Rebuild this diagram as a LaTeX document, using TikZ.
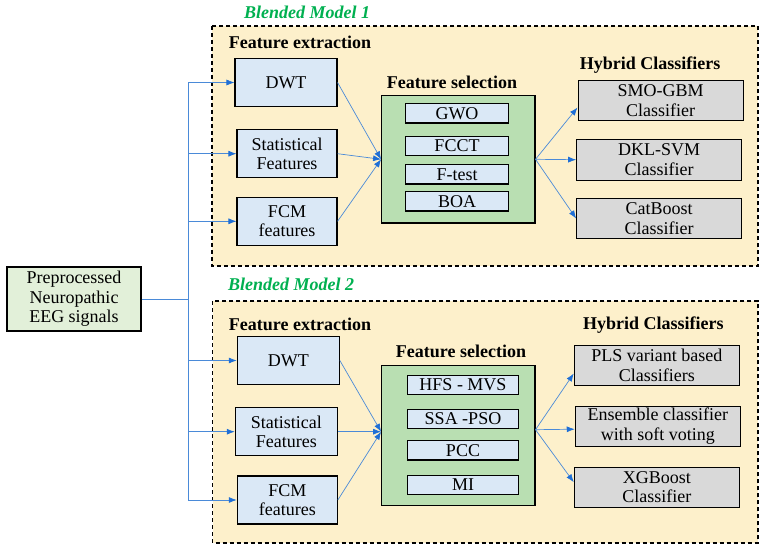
\documentclass[tikz,border=0pt]{standalone}
\usepackage{fontspec}
\setmainfont{Liberation Serif}
\usetikzlibrary{arrows.meta,calc}
\definecolor{panelfill}{HTML}{FDF0CB}
\definecolor{featfill}{HTML}{DAE8F6}
\definecolor{selfill}{HTML}{B9DFB2}
\definecolor{prefill}{HTML}{E2F0D9}
\definecolor{clsfill}{HTML}{D9D9D9}
\definecolor{titlegreen}{HTML}{00B050}
\definecolor{linkblue}{HTML}{4A8AD8}
\definecolor{tipblue}{HTML}{1F6FD6}
\tikzset{
  panel/.style={draw=black, fill=panelfill, line width=1.1pt, dash pattern=on 4pt off 3pt},
  basebox/.style={draw=black, line width=1.1pt, inner sep=0pt, align=center},
  featbox/.style={basebox, fill=featfill},
  selbox/.style={basebox, fill=selfill},
  prebox/.style={basebox, fill=prefill},
  clsbox/.style={basebox, fill=clsfill},
  itembox/.style={basebox, fill=featfill, minimum height=19.3pt},
  head/.style={font=\fontsize{18}{19.5}\selectfont\bfseries, inner sep=0pt},
  title/.style={font=\fontsize{18}{19.5}\selectfont\bfseries\itshape, text=titlegreen, inner sep=0pt},
  link/.style={draw=linkblue, line width=0.7pt},
  arrow/.style={link, -{Latex[length=8pt,width=6pt,color=tipblue]}},
}
\begin{document}
\begin{tikzpicture}[x=1pt, y=-1pt, font=\fontsize{18}{19.5}\selectfont]
\useasboundingbox (0,0) rectangle (763,549);

% dashed panels of the two blended models
\draw[panel] (212,26) rectangle (758,266);
\draw[panel] (212.7,301) rectangle (758,543);

% input
\node[prebox, minimum width=134pt, minimum height=64pt] (pre) at (74,299)
  {Preprocessed\\Neuropathic\\EEG signals};

% ---- Blended Model 1 ----
\node[title] (t1) at (307,12) {Blended Model 1};
\node[head] (fe1) at (300,42) {Feature extraction};
\node[featbox, minimum width=102pt, minimum height=47.6pt] (dwt1) at (286,82.5) {DWT};
\node[featbox, minimum width=100pt, minimum height=48pt] (stat1) at (287,153.7) {Statistical\\Features};
\node[featbox, minimum width=100pt, minimum height=48pt] (fcm1) at (287,221.3) {FCM\\features};

\node[head] (fs1) at (452,82) {Feature selection};
\node[selbox, minimum width=153.3pt, minimum height=127.3pt] (sel1) at (458.3,159.3) {};
\node[itembox, minimum width=102.6pt] (gwo) at (457,113.3) {GWO};
\node[itembox, minimum width=102.6pt] (fcct) at (457,145.7) {FCCT};
\node[itembox, minimum width=102.6pt] (ftest) at (457,174.3) {F-test};
\node[itembox, minimum width=102.6pt] (boa) at (457,201.3) {BOA};

\node[head] (hc1) at (650,65) {Hybrid Classifiers};
\node[clsbox, minimum width=165.3pt, minimum height=40.4pt] (smo) at (660.7,100.5) {SMO-GBM\\Classifier};
\node[clsbox, minimum width=165pt, minimum height=40.7pt] (dkl) at (659.2,159.7) {DKL-SVM\\Classifier};
\node[clsbox, minimum width=165pt, minimum height=40.4pt] (cat) at (659.2,218.5) {CatBoost\\Classifier};

% ---- Blended Model 2 ----
\node[title] (t2) at (291,284) {Blended Model 2};
\node[head] (fe2) at (300,324) {Feature extraction};
\node[featbox, minimum width=102pt, minimum height=47.6pt] (dwt2) at (288.3,360.5) {DWT};
\node[featbox, minimum width=102pt, minimum height=48pt] (stat2) at (286.3,431.7) {Statistical\\Features};
\node[featbox, minimum width=100pt, minimum height=48pt] (fcm2) at (287.3,500) {FCM\\features};

\node[head] (fs2) at (461,351) {Feature selection};
\node[selbox, minimum width=153.3pt, minimum height=140pt] (sel2) at (458.3,435.7) {};
\node[itembox, minimum width=111.4pt] (hfs) at (463,384.8) {HFS - MVS};
\node[itembox, minimum width=111.4pt] (ssa) at (463,419) {SSA -PSO};
\node[itembox, minimum width=111.4pt] (pcc) at (463,450.3) {PCC};
\node[itembox, minimum width=111.4pt] (mi) at (463,484.7) {MI};

\node[head] (hc2) at (653.3,325) {Hybrid Classifiers};
\node[clsbox, minimum width=165pt, minimum height=40.4pt] (pls) at (656.8,365.5) {PLS variant based\\Classifiers};
\node[clsbox, minimum width=165pt, minimum height=40.3pt] (ens) at (657.8,426.2) {Ensemble classifier\\with soft voting};
\node[clsbox, minimum width=165pt, minimum height=40.3pt] (xgb) at (656.8,487.2) {XGBoost\\Classifier};

% distribution trunk from the input to all feature extractors
\coordinate (trunk) at (188,299);
\draw[link] (pre.east) -- (trunk);
\draw[link] (trunk |- dwt1.west) -- (trunk |- fcm2.west);
\foreach \n in {dwt1,stat1,fcm1,dwt2,stat2,fcm2}
  \draw[arrow] (trunk |- \n.west) -- (\n.west);

% extraction -> selection
\coordinate (in1) at (sel1.west);
\coordinate (in2) at ($(sel2.west)+(0,-4)$);
\foreach \n in {dwt1,stat1,fcm1}
  \draw[arrow] (\n.east) -- (in1);
\foreach \n in {dwt2,stat2,fcm2}
  \draw[arrow] (\n.east) -- (in2);

% selection -> classifiers
\coordinate (out1) at (sel1.east);
\coordinate (out2) at ($(sel2.east)+(0,-6)$);
\draw[arrow] (out1) -- ($(smo.west)+(0,7)$);
\draw[arrow] (out1) -- (dkl.west);
\draw[arrow] (out1) -- (cat.west);
\draw[arrow] (out2) -- ($(pls.west)+(0,8)$);
\draw[arrow] (out2) -- ($(ens.west)+(0,3)$);
\draw[arrow] (out2) -- ($(xgb.west)+(0,-5)$);
\end{tikzpicture}
\end{document}
